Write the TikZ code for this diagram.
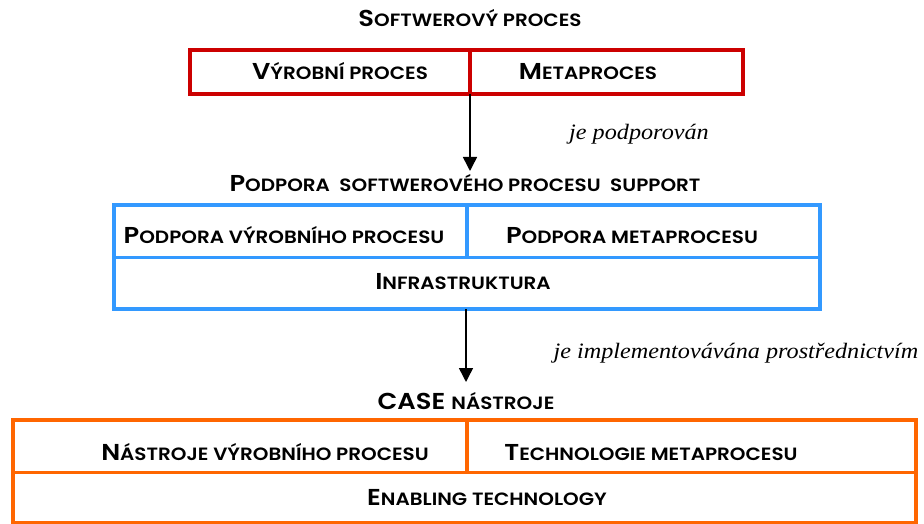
\documentclass[tikz,border=0pt]{standalone}
\usepackage{fontspec}
\setmainfont{Poppins}[FakeStretch=1.12, BoldFont={Poppins SemiBold}]
\newfontfamily\notefont{Liberation Serif}[FakeStretch=1.1]
\usetikzlibrary{arrows.meta}

\definecolor{procred}{RGB}{204,0,0}
\definecolor{suppblue}{RGB}{51,153,255}
\definecolor{toolorange}{RGB}{255,102,0}

% fake small caps: a large initial and smaller capitals
\newcommand\Ini[1]{{\fontsize{23}{22}\selectfont #1}}
\newcommand\Rest[1]{{\fontsize{17.8}{22}\selectfont #1}}

\tikzset{
  heading/.style={font=\bfseries, anchor=base, inner sep=0pt},
  cell/.style={font=\bfseries, anchor=base, inner sep=0pt},
  note/.style={font=\notefont\itshape\fontsize{22}{22}\selectfont, anchor=base, inner sep=0pt},
  frame/.style={draw=#1, line width=4pt},
  divider/.style={draw=#1, line width=3.5pt},
  flow/.style={draw=black, line width=1.5pt, -{Triangle[length=14pt, width=14pt]}}
}

\begin{document}
\begin{tikzpicture}[x=1pt, y=-1pt]
  \useasboundingbox (0,0) rectangle (924,524);

  % --- software process ---
  \node[heading] (t1) at (470,27) {\Ini{S}\Rest{OFTWEROVÝ PROCES}};
  \draw[frame=procred] (189.5,50.5) rectangle (743.3,94.5);
  \coordinate (r-top) at (470,50.5);
  \coordinate (r-bot) at (470,94.5);
  \draw[divider=procred] (r-top) -- (r-bot);
  \node[cell] (c11) at (340,80) {\Ini{V}\Rest{ÝROBNÍ PROCES}};
  \node[cell] (c12) at (588,80) {\Ini{M}\Rest{ETAPROCES}};

  \coordinate (tip1) at (470,171);
  \draw[flow] (r-bot) -- (tip1);
  \node[note] (n1) at (639,140) {je podporován};

  % --- process support ---
  \node[heading] (t2) at (465,192) {\Ini{P}\Rest{ODPORA\ \ SOFTWEROVÉHO PROCESU\ \ SUPPORT}};
  \draw[frame=suppblue] (114.3,205) rectangle (820,309.3);
  \draw[divider=suppblue] (114.3,257.3) -- (820,257.3);
  \draw[divider=suppblue] (467,205) -- (467,257.3);
  \node[cell] (c21) at (284,243) {\Ini{P}\Rest{ODPORA VÝROBNÍHO PROCESU}};
  \node[cell] (c22) at (632,243) {\Ini{P}\Rest{ODPORA METAPROCESU}};
  \node[cell] (c23) at (463,289) {\Ini{I}\Rest{NFRASTRUKTURA}};

  \coordinate (b-bot) at (466,309.3);
  \coordinate (tip2) at (466,382);
  \draw[flow] (b-bot) -- (tip2);
  \node[note] (n2) at (736,358) {je implementovávána prostřednictvím};

  % --- CASE tools ---
  \node[heading] (t3) at (466,409) {\Ini{CASE }\Rest{NÁSTROJE}};
  \draw[frame=toolorange] (13.3,420) rectangle (915.5,523);
  \draw[divider=toolorange] (13.3,472.3) -- (915.5,472.3);
  \draw[divider=toolorange] (467,420) -- (467,472.3);
  \node[cell] (c31) at (265,460) {\Ini{N}\Rest{ÁSTROJE VÝROBNÍHO PROCESU}};
  \node[cell] (c32) at (651,460) {\Ini{T}\Rest{ECHNOLOGIE METAPROCESU}};
  \node[cell] (c33) at (487,505) {\Ini{E}\Rest{NABLING TECHNOLOGY}};
\end{tikzpicture}
\end{document}
